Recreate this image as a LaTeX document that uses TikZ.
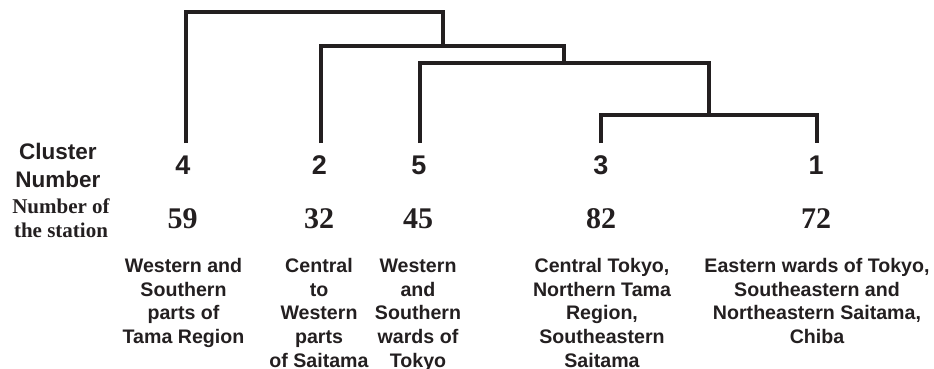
\documentclass[tikz,border=0pt]{standalone}
\usepackage{fontspec}
\setmainfont{Liberation Serif}
\setsansfont{Liberation Sans}
\definecolor{ink}{HTML}{231F20}
\begin{document}
\begin{tikzpicture}[x=1pt,y=-1pt,
    branch/.style={draw=ink,line width=3.2pt,line join=miter},
    cnum/.style={anchor=base,inner sep=0pt,text=ink,font=\sffamily\bfseries\fontsize{27}{30}\selectfont},
    snum/.style={anchor=base,inner sep=0pt,text=ink,font=\rmfamily\bfseries\fontsize{30}{34}\selectfont},
    headsans/.style={anchor=base,inner sep=0pt,text=ink,align=center,font=\sffamily\bfseries\fontsize{22.5}{27.4}\selectfont},
    headserif/.style={anchor=base,inner sep=0pt,text=ink,align=center,font=\rmfamily\bfseries\fontsize{21}{24}\selectfont},
    region/.style={anchor=base,inner sep=0pt,text=ink,align=center,font=\sffamily\bfseries\fontsize{19.6}{23.7}\selectfont}]
  \useasboundingbox (0,0) rectangle (934,368);

  % leaf ends and merge points of the dendrogram
  \coordinate (t4) at (186,143);
  \coordinate (t2) at (321,143);
  \coordinate (t5) at (420,143);
  \coordinate (t3) at (601,143);
  \coordinate (t1) at (817,143);
  \coordinate (m31) at (709,115);
  \coordinate (m531) at (564,63);
  \coordinate (m2531) at (443,46);
  \coordinate (root) at (314,12);

  \draw[branch] (t3) |- (m31) -| (t1);
  \draw[branch] (t5) |- (m531) -| (m31);
  \draw[branch] (t2) |- (m2531) -| (m531);
  \draw[branch] (t4) |- (root) -| (m2531);

  % row headings (positioned by the baseline of their last line)
  \node[headsans] (hcl) at (58,187) {Cluster\\Number};
  \node[headserif] (hst) at (61,237) {Number of\\the station};

  % cluster numbers
  \node[cnum] (c4) at (183,174) {4};
  \node[cnum] (c2) at (319.5,174) {2};
  \node[cnum] (c5) at (419,174) {5};
  \node[cnum] (c3) at (601,174) {3};
  \node[cnum] (c1) at (816,174) {1};

  % station counts
  \node[snum] (s4) at (182.5,228.5) {59};
  \node[snum] (s2) at (319,228.5) {32};
  \node[snum] (s5) at (418,228.5) {45};
  \node[snum] (s3) at (601,228.5) {82};
  \node[snum] (s1) at (816,228.5) {72};

  % regions, first line baseline at 272.5, 23.7 between lines
  \node[region] (r4) at (183.5,343.6) {Western and\\Southern\\parts of\\Tama Region};
  \node[region] (r2) at (319,367.3) {Central\\to\\Western\\parts\\of Saitama};
  \node[region] (r5) at (418,367.3) {Western\\and\\Southern\\wards of\\Tokyo};
  \node[region] (r3) at (602,367.3) {Central Tokyo,\\Northern Tama\\Region,\\Southeastern\\Saitama};
  \node[region] (r1) at (817,343.6) {Eastern wards of Tokyo,\\Southeastern and\\Northeastern Saitama,\\Chiba};
\end{tikzpicture}
\end{document}
